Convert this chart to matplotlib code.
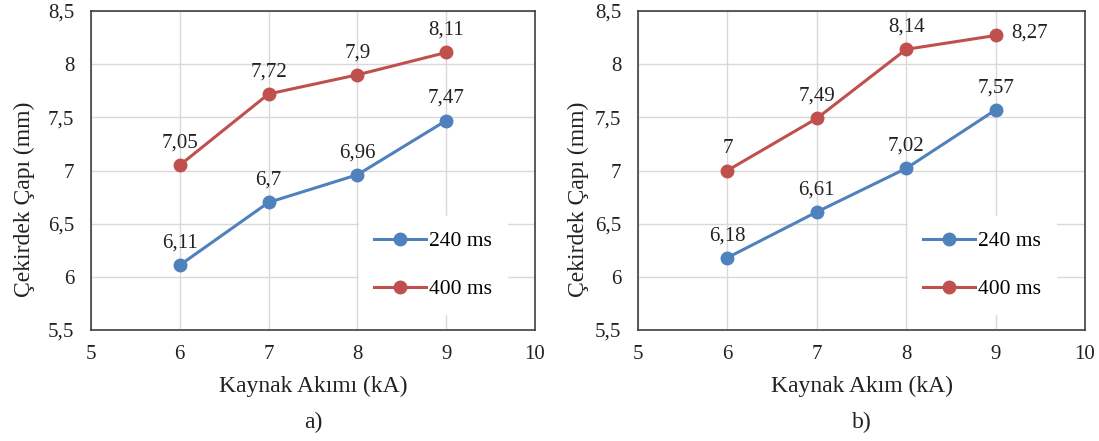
import numpy as np
import matplotlib
matplotlib.use("Agg")
import matplotlib.pyplot as plt
from matplotlib.ticker import FuncFormatter

# ---- data ----
current_ka = [6, 7, 8, 9]

a_240 = [6.11, 6.70, 6.96, 7.47]
a_400 = [7.05, 7.72, 7.90, 8.11]

b_240 = [6.18, 6.61, 7.02, 7.57]
b_400 = [7.00, 7.49, 8.14, 8.27]

xlabels = ["Kaynak Akımı (kA)", "Kaynak Akım (kA)"]
ylabel = "Çekirdek Çapı (mm)"
panel_tags = ["a)", "b)"]
series_names = ["240 ms", "400 ms"]

BLUE = "#4F81BD"
RED = "#C0504D"

plt.rcParams["font.family"] = ["Liberation Serif", "DejaVu Serif"]


def comma(v, pos=None):
    return f"{v:g}".replace(".", ",")


fig = plt.figure(figsize=(10.99, 4.41), dpi=100)
ax_a = fig.add_axes([0.0828, 0.2517, 0.404, 0.7233])
ax_b = fig.add_axes([0.5805, 0.2517, 0.4068, 0.7233])

panels = [(ax_a, a_240, a_400), (ax_b, b_240, b_400)]
ylabel_x = [-0.126, -0.11]

for i, (ax, s240, s400) in enumerate(panels):
    ax.plot(current_ka, s240, color=BLUE, lw=2.2, marker="o", ms=9,
            label=series_names[0], zorder=3)
    ax.plot(current_ka, s400, color=RED, lw=2.2, marker="o", ms=9,
            label=series_names[1], zorder=3)

    for series in (s240, s400):
        for j, (x, y) in enumerate(zip(current_ka, series)):
            off = (0, 9)
            ha, va = "center", "bottom"
            # last red label on panel b sits to the right of the point
            if i == 1 and series is s400 and j == 3:
                off = (11, 2)
                ha, va = "left", "center"
            ax.annotate(comma(y), (x, y), xytext=off, textcoords="offset points",
                        ha=ha, va=va, fontsize=15, color="#222222")

    ax.set_xlim(5, 10)
    ax.set_ylim(5.5, 8.5)
    ax.set_xticks(range(5, 11))
    ax.set_yticks(np.arange(5.5, 8.51, 0.5))
    ax.xaxis.set_major_formatter(FuncFormatter(comma))
    ax.yaxis.set_major_formatter(FuncFormatter(comma))
    ax.tick_params(length=0, labelsize=15, colors="#222222")
    ax.tick_params(axis="x", pad=11)
    ax.tick_params(axis="y", pad=12)
    ax.grid(color="#D9D9D9", lw=1, zorder=0)
    ax.set_axisbelow(True)
    for sp in ax.spines.values():
        sp.set_color("#404040")
        sp.set_linewidth(1.2)

    ax.set_xlabel(xlabels[i], fontsize=17, color="#222222", labelpad=8)
    ax.set_ylabel(ylabel, fontsize=17, color="#222222")
    ax.yaxis.set_label_coords(ylabel_x[i], 0.41)

    leg = ax.legend(loc="center", bbox_to_anchor=(0.77, 0.203), frameon=True,
                    fontsize=15.5, handlelength=2.4, labelspacing=1.3,
                    handletextpad=0.15, borderpad=0.7)
    leg.get_frame().set_facecolor("white")
    leg.get_frame().set_edgecolor("white")
    leg.get_frame().set_alpha(1)

    pos = ax.get_position()
    fig.text(pos.x0 + pos.width / 2, 0.042, panel_tags[i],
             ha="center", va="center", fontsize=17, color="#222222")

fig.savefig("out.png", dpi=100)
